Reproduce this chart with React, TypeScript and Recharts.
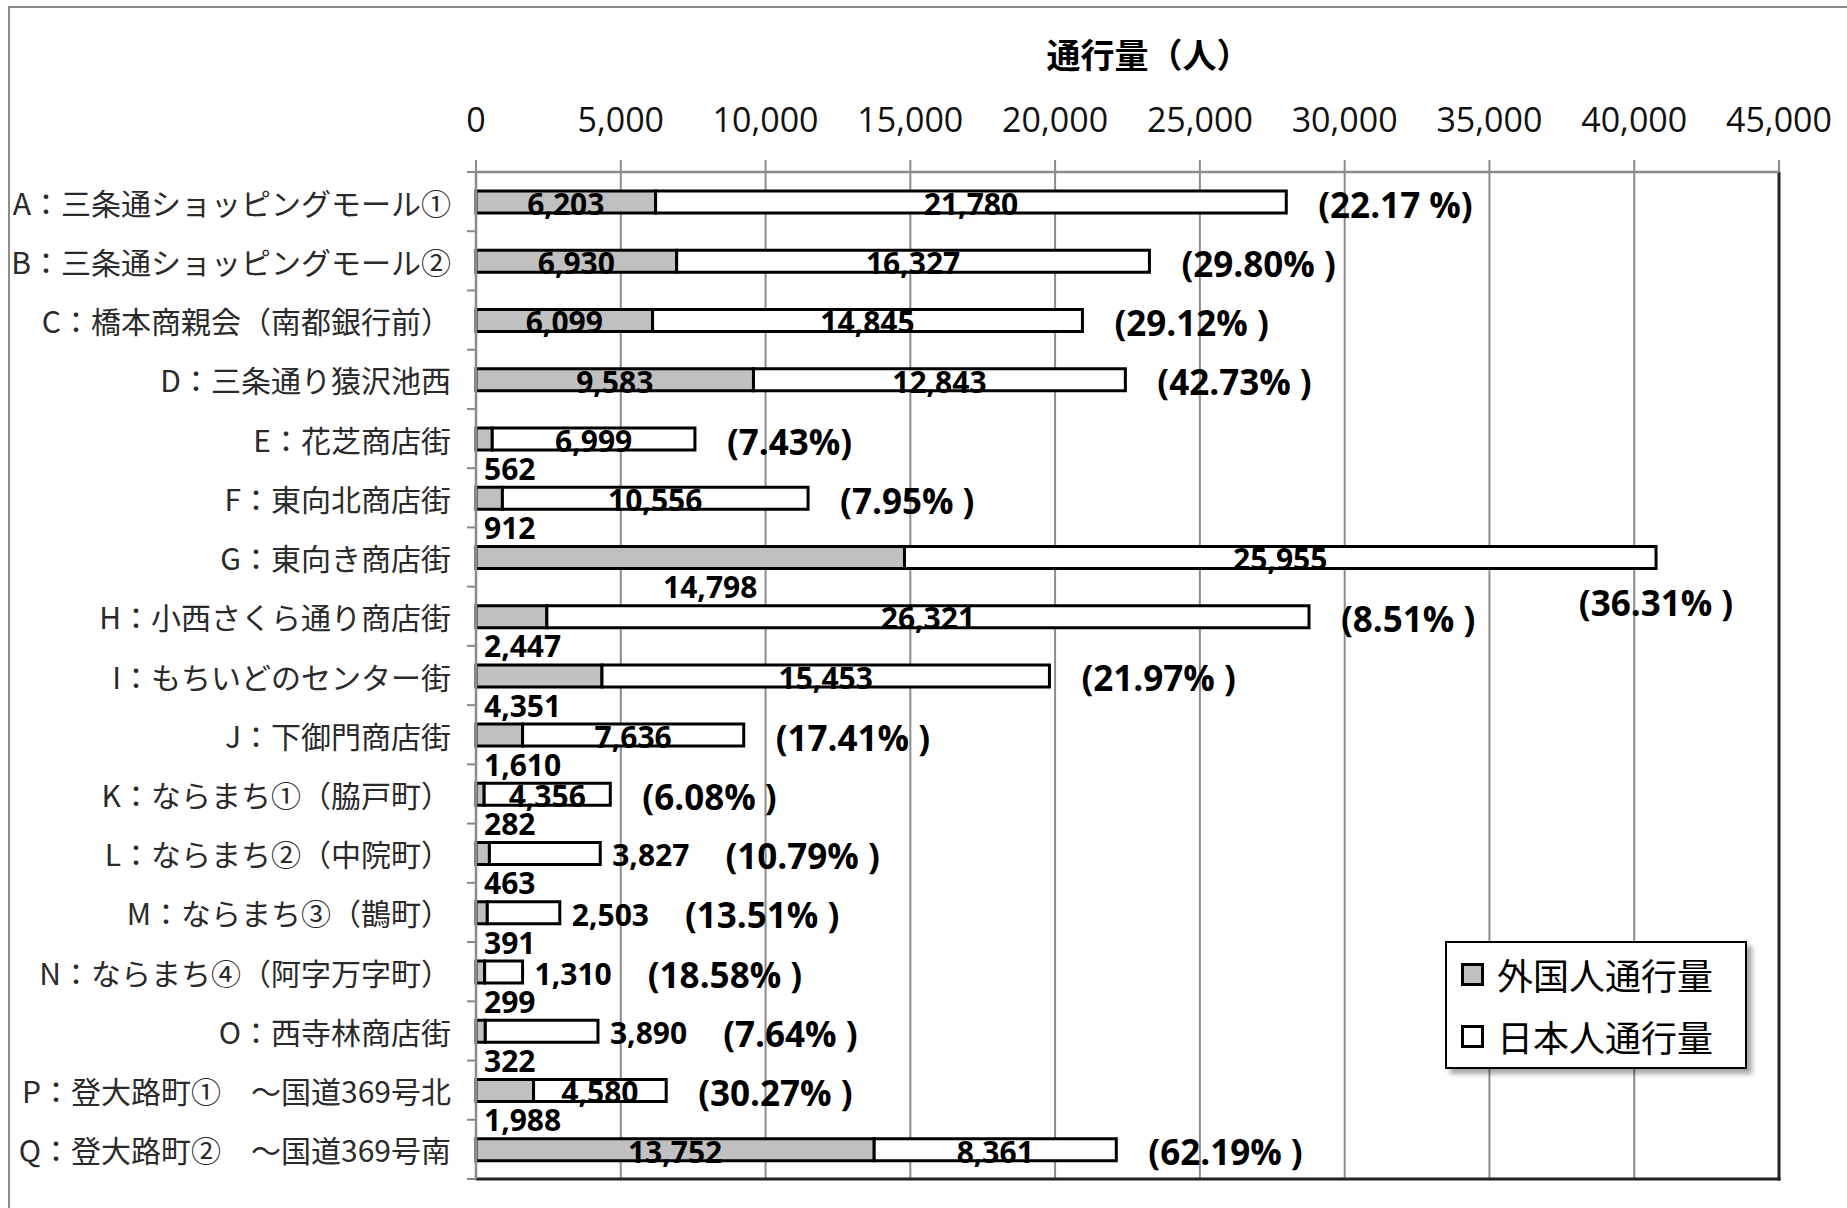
import React from 'react';
import * as Recharts from 'recharts';
import { BarChart, Bar, XAxis, YAxis, CartesianGrid, LabelList, Legend } from 'recharts';

// ---------- data ----------
const categories = [
  'A：三条通ショッピングモール①',
  'B：三条通ショッピングモール②',
  'C：橋本商親会（南都銀行前）',
  'D：三条通り猿沢池西',
  'E：花芝商店街',
  'F：東向北商店街',
  'G：東向き商店街',
  'H：小西さくら通り商店街',
  'I：もちいどのセンター街',
  'J：下御門商店街',
  'K：ならまち①（脇戸町）',
  'L：ならまち②（中院町）',
  'M：ならまち③（鵲町）',
  'N：ならまち④（阿字万字町）',
  'O：西寺林商店街',
  'P：登大路町①　～国道369号北',
  'Q：登大路町②　～国道369号南',
];
const foreignCounts = [6203, 6930, 6099, 9583, 562, 912, 14798, 2447, 4351, 1610, 282, 463, 391, 299, 322, 1988, 13752];
const japaneseCounts = [21780, 16327, 14845, 12843, 6999, 10556, 25955, 26321, 15453, 7636, 4356, 3827, 2503, 1310, 3890, 4580, 8361];
const shareLabels = [
  '(22.17 %)', '(29.80% )', '(29.12% )', '(42.73% )', '(7.43%)', '(7.95% )', '(36.31% )', '(8.51% )',
  '(21.97% )', '(17.41% )', '(6.08% )', '(10.79% )', '(13.51% )', '(18.58% )', '(7.64% )', '(30.27% )', '(62.19% )',
];
const xTicks = [0, 5000, 10000, 15000, 20000, 25000, 30000, 35000, 40000, 45000];
const foreignLabelInside = ['A', 'B', 'C', 'D', 'Q'];
const foreignName = '外国人通行量';
const japaneseName = '日本人通行量';
const titleText = '通行量（人）';

const data = categories.map((name, i) => ({
  name,
  foreign: foreignCounts[i],
  japanese: japaneseCounts[i],
}));

// ---------- layout ----------
const W = 1847;
const H = 1208;
const MARGIN = { top: 112, right: 68, bottom: 29, left: 0 };
const Y_AXIS_W = 476;
const X_AXIS_H = 60;
const PLOT_RIGHT = W - MARGIN.right;
const NUM_FONT = "'Open Sans', 'DejaVu Sans', sans-serif";
const CJK_FONT = "'Noto Sans CJK JP', sans-serif";
const VAL_FS = 30;
const PCT_FS = 35;

const fmt = (v: number) => Number(v).toLocaleString('en-US');

let measureCtx: CanvasRenderingContext2D | null = null;
function textWidth(s: string, fs: number, weight = 700, family = NUM_FONT): number {
  try {
    if (!measureCtx) measureCtx = document.createElement('canvas').getContext('2d');
    if (measureCtx) {
      measureCtx.font = `${weight} ${fs}px ${family}`;
      return measureCtx.measureText(s).width;
    }
  } catch (e) {
    /* ignore */
  }
  return s.length * fs * 0.56;
}

function box(p: any) {
  const vb = p.viewBox && typeof p.viewBox.x === 'number' ? p.viewBox : p;
  return { x: Number(vb.x), y: Number(vb.y), width: Number(vb.width), height: Number(vb.height) };
}

const numStyle = { fontFamily: NUM_FONT, fontWeight: 700, fill: '#000' } as const;

const ForeignLabel = (p: any) => {
  const { x, y, width, height } = box(p);
  const i = p.index;
  const v = p.value ?? foreignCounts[i];
  const text = fmt(v);
  const cy = y + height / 2;
  const inside = foreignLabelInside.includes(categories[i].charAt(0));
  if (inside) {
    return (
      <text x={x + width / 2} y={cy + VAL_FS * 0.36 + 2} textAnchor="middle" fontSize={VAL_FS} {...numStyle}>
        {text}
      </text>
    );
  }
  const by = cy + 30 + VAL_FS * 0.36;
  if (width > 200) {
    return (
      <text x={x + width / 2 + 20} y={by} textAnchor="middle" fontSize={VAL_FS} {...numStyle}>
        {text}
      </text>
    );
  }
  return (
    <text x={x + 8} y={by} textAnchor="start" fontSize={VAL_FS} {...numStyle}>
      {text}
    </text>
  );
};

const JapaneseLabel = (p: any) => {
  const { x, y, width, height } = box(p);
  const i = p.index;
  const v = p.value ?? japaneseCounts[i];
  const text = fmt(v);
  const tw = textWidth(text, VAL_FS);
  const cy = y + height / 2;
  const end = x + width;
  const inside = width >= tw + 40;
  const pct = shareLabels[i];
  const pw = textWidth(pct, PCT_FS);
  const pctStart = inside ? end + 32 : end + 12 + tw + 36;
  const overflow = pctStart + pw > PLOT_RIGHT - 4;
  return (
    <g>
      {inside ? (
        <text x={x + width / 2} y={cy + VAL_FS * 0.36 + 2} textAnchor="middle" fontSize={VAL_FS} {...numStyle}>
          {text}
        </text>
      ) : (
        <text x={end + 12} y={cy + VAL_FS * 0.36 + 2} textAnchor="start" fontSize={VAL_FS} {...numStyle}>
          {text}
        </text>
      )}
      {overflow ? (
        <text x={end} y={cy + 46 + PCT_FS * 0.36} textAnchor="middle" fontSize={PCT_FS} {...numStyle}>
          {pct}
        </text>
      ) : (
        <text x={pctStart} y={cy + 3 + PCT_FS * 0.36} textAnchor="start" fontSize={PCT_FS} {...numStyle}>
          {pct}
        </text>
      )}
    </g>
  );
};

const CategoryTick = (p: any) => {
  const { x, y, payload, index, visibleTicksCount } = p;
  const half = payload && typeof payload.offset === 'number' && payload.offset > 0 ? payload.offset : 1007 / 34;
  const axisX = x + 25;
  return (
    <g>
      <line x1={axisX - 9} x2={axisX} y1={y - half} y2={y - half} stroke="#888" strokeWidth={2} />
      {index === visibleTicksCount - 1 && (
        <line x1={axisX - 9} x2={axisX} y1={y + half} y2={y + half} stroke="#888" strokeWidth={2} />
      )}
      <text x={x} y={y} textAnchor="end" dominantBaseline="central" fontSize={30} fontFamily={CJK_FONT} fill="#2a2a2a">
        {payload.value}
      </text>
    </g>
  );
};

const TitleLabel = (p: any) => {
  const vb = p.viewBox || { x: Y_AXIS_W, y: MARGIN.top, width: PLOT_RIGHT - Y_AXIS_W, height: X_AXIS_H };
  return (
    <text
      x={vb.x + vb.width / 2 + 21}
      y={53}
      textAnchor="middle"
      dominantBaseline="central"
      fontSize={34}
      fontWeight={700}
      fontFamily={CJK_FONT}
      fill="#000"
    >
      {titleText}
    </text>
  );
};

// plot-area frame (right and bottom borders), using the chart's own plot area
const usePlotAreaSafe: () => any = (Recharts as any).usePlotArea ?? (() => undefined);
const PlotFrame = () => {
  const pa = usePlotAreaSafe();
  const x = pa?.x ?? Y_AXIS_W;
  const y = pa?.y ?? MARGIN.top + X_AXIS_H;
  const w = pa?.width ?? PLOT_RIGHT - Y_AXIS_W;
  const h = pa?.height ?? H - MARGIN.bottom - (MARGIN.top + X_AXIS_H);
  return (
    <g>
      <line x1={x + w} x2={x + w} y1={y} y2={y + h + 1.5} stroke="#222" strokeWidth={3} />
      <line x1={x} x2={x + w + 1.5} y1={y + h} y2={y + h} stroke="#222" strokeWidth={3} />
    </g>
  );
};

const LegendBox = (p: any) => {
  const items = (p.payload || []).map((e: any) => ({
    name: e.value,
    fill: e.color ?? e.payload?.fill ?? '#fff',
  }));
  return (
    <div
      style={{
        width: 302,
        boxSizing: 'border-box',
        border: '2px solid #000',
        background: '#fff',
        boxShadow: '5px 5px 5px rgba(0,0,0,0.35)',
        fontFamily: CJK_FONT,
        fontSize: 36,
        color: '#000',
      }}
    >
      {items.map((it: any) => (
        <div key={it.name} style={{ height: 62, display: 'flex', alignItems: 'center', paddingLeft: 14 }}>
          <span
            style={{
              display: 'inline-block',
              width: 23,
              height: 23,
              boxSizing: 'border-box',
              border: '3px solid #000',
              background: it.fill,
              marginRight: 13,
            }}
          />
          <span style={{ lineHeight: '40px' }}>{it.name}</span>
        </div>
      ))}
    </div>
  );
};

export default function App() {
  return (
    <div style={{ position: 'absolute', left: 0, top: 0, width: W, height: H, background: '#fff', overflow: 'hidden' }}>
      <div
        style={{
          position: 'absolute',
          left: 8,
          top: 6,
          width: W,
          height: H,
          borderLeft: '2px solid #8c8c8c',
          borderTop: '2px solid #8c8c8c',
        }}
      />
      <div style={{ position: 'absolute', left: 0, top: 0 }}>
        <BarChart layout="vertical" width={W} height={H} data={data} margin={MARGIN} barSize={22}>
          <CartesianGrid vertical horizontal={false} stroke="#8c8c8c" strokeWidth={2} />
          <XAxis
            type="number"
            orientation="top"
            domain={[0, 45000]}
            ticks={xTicks}
            interval={0}
            height={X_AXIS_H}
            tickFormatter={fmt}
            tickSize={12}
            tickMargin={28}
            axisLine={{ stroke: '#8c8c8c', strokeWidth: 2.5 }}
            tickLine={{ stroke: '#8c8c8c', strokeWidth: 2 }}
            tick={{ fontSize: 34, fill: '#111', fontFamily: NUM_FONT }}
            label={<TitleLabel />}
          />
          <YAxis
            type="category"
            dataKey="name"
            width={Y_AXIS_W}
            interval={0}
            tickSize={0}
            tickMargin={25}
            tickLine={false}
            axisLine={{ stroke: '#8c8c8c', strokeWidth: 2.5 }}
            tick={<CategoryTick />}
          />
          <Legend
            layout="vertical"
            align="center"
            verticalAlign="middle"
            wrapperStyle={{ left: 1445, top: 941, width: 302 }}
            content={<LegendBox />}
          />
          <Bar
            dataKey="foreign"
            name={foreignName}
            stackId="s"
            fill="#c0c0c0"
            stroke="#000"
            strokeWidth={3}
            isAnimationActive={false}
          >
            <LabelList dataKey="foreign" content={<ForeignLabel />} />
          </Bar>
          <Bar
            dataKey="japanese"
            name={japaneseName}
            stackId="s"
            fill="#ffffff"
            stroke="#000"
            strokeWidth={3}
            isAnimationActive={false}
          >
            <LabelList dataKey="japanese" content={<JapaneseLabel />} />
          </Bar>
          <PlotFrame />
        </BarChart>
      </div>
    </div>
  );
}
